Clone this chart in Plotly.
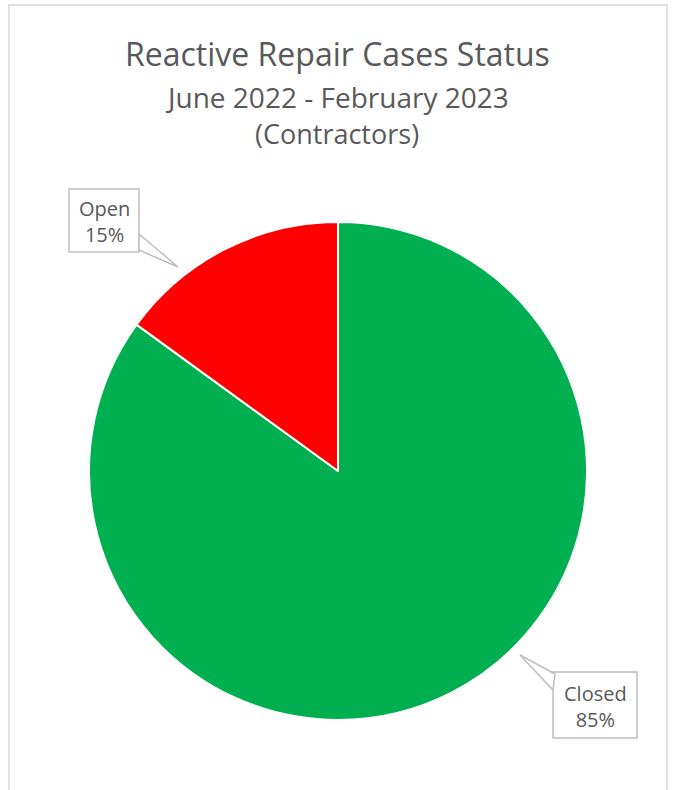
import plotly.graph_objects as go

labels = ["Closed", "Open"]
values = [85, 15]
colors = ["#00B050", "#FF0000"]
title_lines = ["Reactive Repair Cases Status", "June 2022 - February 2023", "(Contractors)"]

W, H = 674, 790
FONT = "Open Sans"
GRAY = "#595959"

def px(x):
    return x / W

def py(y):
    return 1 - y / H

cx, cy, r = 338, 471, 249

fig = go.Figure(go.Pie(
    labels=labels, values=values, sort=False, direction="clockwise", rotation=0,
    marker=dict(colors=colors, line=dict(color="white", width=2)),
    textinfo="none", hoverinfo="label+percent", showlegend=False,
    domain=dict(x=[px(cx - r), px(cx + r)], y=[py(cy + r), py(cy - r)]),
))

shapes = [dict(type="rect", xref="paper", yref="paper", x0=px(9), x1=px(667), y0=-0.1, y1=py(5),
               line=dict(color="#D9D9D9", width=1.5), fillcolor="rgba(0,0,0,0)", layer="below")]

def path(pts):
    s = "M " + " L ".join(f"{px(x)},{py(y)}" for x, y in pts) + " Z"
    return s

annotations = []
sizes = [32, 28, 27]
ys = [53, 97, 133]
for t, s, y in zip(title_lines, sizes, ys):
    annotations.append(dict(text=t, x=0.5, y=py(y), xref="paper", yref="paper", showarrow=False,
                            xanchor="center", yanchor="middle", font=dict(family=FONT, size=s, color=GRAY)))

callouts = [
    # label, value, box (x0,y0,x1,y1), pointer polygon
    (labels[1], values[1], (69, 189, 139, 252), [(139, 234), (178, 267), (139, 250)]),
    (labels[0], values[0], (553, 672, 637, 738), [(555, 674), (520, 655), (553, 690)]),
]
total = sum(values)
for lab, v, (x0, y0, x1, y1), poly in callouts:
    shapes.append(dict(type="rect", xref="paper", yref="paper", x0=px(x0), x1=px(x1), y0=py(y1), y1=py(y0),
                       line=dict(color="#BFBFBF", width=1.5), fillcolor="white", layer="above"))
    shapes.append(dict(type="path", xref="paper", yref="paper", path=path(poly),
                       line=dict(color="#BFBFBF", width=1.5), fillcolor="white", layer="above"))
    annotations.append(dict(text=f"{lab}<br>{round(v / total * 100)}%", x=px((x0 + x1) / 2), y=py((y0 + y1) / 2 + 1.5),
                            xref="paper", yref="paper", showarrow=False, xanchor="center", yanchor="middle",
                            font=dict(family=FONT, size=20, color=GRAY), align="center"))

fig.update_layout(width=W, height=H, margin=dict(l=0, r=0, t=0, b=0), paper_bgcolor="white",
                  plot_bgcolor="white", shapes=shapes, annotations=annotations)
fig.write_html("out.html")
